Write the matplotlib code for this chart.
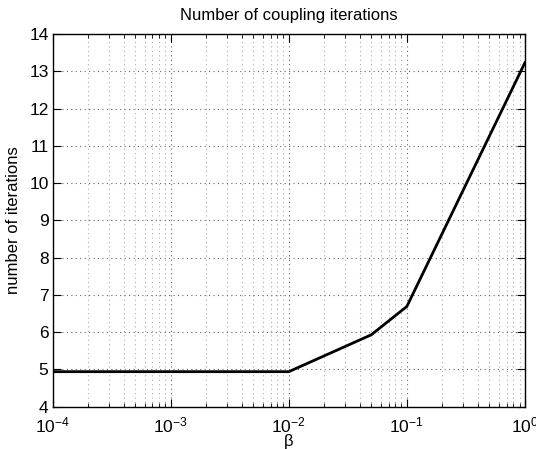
import numpy as np
import matplotlib
matplotlib.use('Agg')
import matplotlib.pyplot as plt
from matplotlib.ticker import LogLocator, NullFormatter

plt.rcParams['font.family'] = ['Liberation Sans', 'DejaVu Sans']
plt.rcParams['mathtext.fontset'] = 'custom'
plt.rcParams['mathtext.rm'] = 'Liberation Sans'

# data
beta = [1e-4, 1e-3, 1e-2, 5e-2, 1e-1, 1e0]
iterations = [4.94, 4.94, 4.94, 5.93, 6.69, 13.23]

fig = plt.figure(figsize=(5.36, 4.49), dpi=100)
ax = fig.add_axes([0.0983, 0.0942, 0.881, 0.830])

ax.plot(beta, iterations, color='black', linewidth=2)

ax.set_xscale('log')
ax.set_xlim(1e-4, 1e0)
ax.set_ylim(4, 14)
ax.set_yticks(np.arange(4, 15, 1))
ax.xaxis.set_major_locator(LogLocator(base=10, numticks=10))
ax.xaxis.set_minor_locator(LogLocator(base=10, subs=np.arange(2, 10), numticks=50))
ax.xaxis.set_minor_formatter(NullFormatter())

ax.grid(True, which='major', linestyle=(0, (1, 3)), color='#666666', linewidth=0.8)
ax.grid(True, which='minor', axis='x', linestyle=(0, (1, 3)), color='#aaaaaa', linewidth=0.8)

ax.tick_params(which='both', direction='in', top=True, right=True, labelsize=12.5)
ax.tick_params(axis='x', pad=6)
ax.tick_params(axis='y', pad=3)
ax.tick_params(which='major', length=6, width=0.8)
ax.tick_params(which='minor', length=3, width=0.6)
for s in ax.spines.values():
    s.set_linewidth(1.0)

ax.set_title('Number of coupling iterations', fontsize=12, pad=10)
ax.set_xlabel('β', fontsize=12, labelpad=-1)
ax.set_ylabel('number of iterations', fontsize=12, labelpad=6)

fig.savefig('out.png', dpi=100)
